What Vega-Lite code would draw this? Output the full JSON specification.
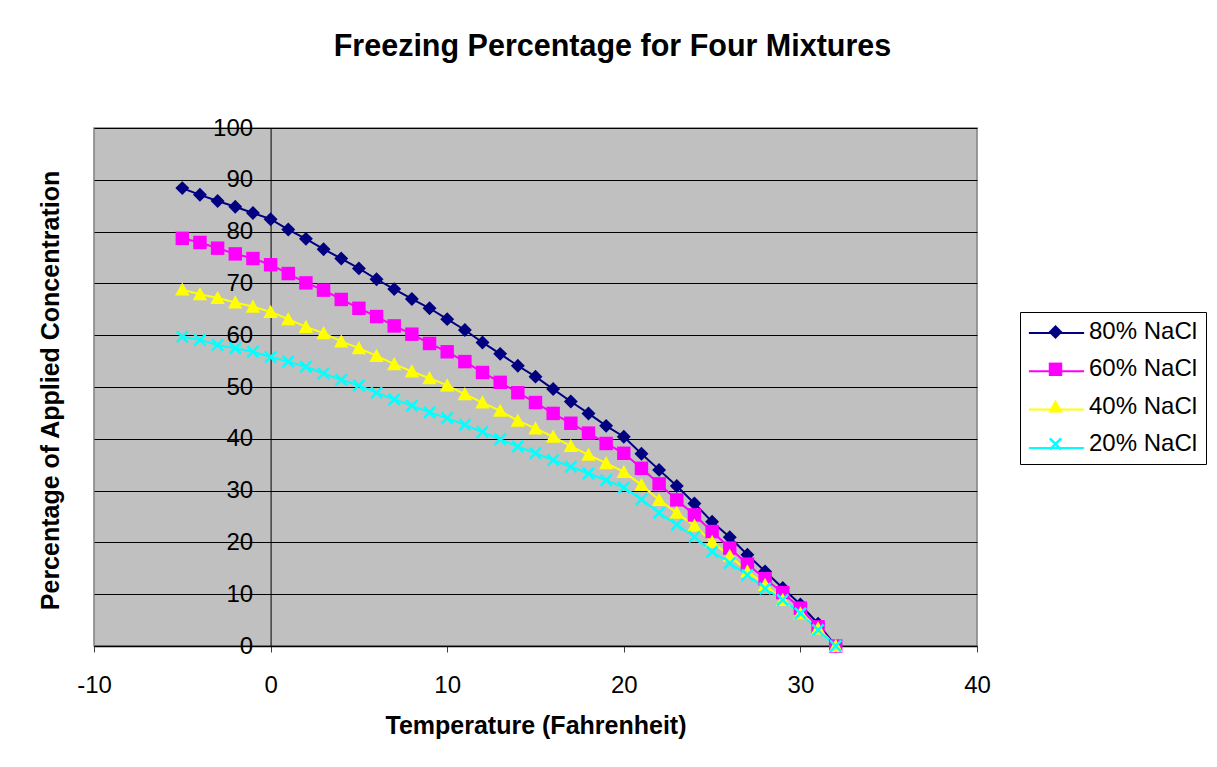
{
  "$schema": "https://vega.github.io/schema/vega-lite/v6.json",
  "width": 883,
  "height": 518,
  "autosize": {"type": "none"},
  "padding": {"left": 94, "top": 128, "right": 240, "bottom": 121},
  "background": "white",
  "title": {
    "text": "Freezing Percentage for Four Mixtures",
    "font": "Liberation Sans",
    "fontSize": 30.5,
    "fontWeight": "bold",
    "color": "black",
    "anchor": "middle",
    "frame": "group",
    "dx": 77,
    "offset": 54
  },
  "config": {
    "view": {"fill": "#C0C0C0", "stroke": "#808080", "strokeWidth": 1.5},
    "font": "Liberation Sans"
  },
  "data": {
    "values": [
      {"t": -5, "p": 88.4, "s": "80% NaCl"}, {"t": -4, "p": 87.1, "s": "80% NaCl"}, {"t": -3, "p": 85.9, "s": "80% NaCl"}, {"t": -2, "p": 84.8, "s": "80% NaCl"}, {"t": -1, "p": 83.6, "s": "80% NaCl"}, {"t": 0, "p": 82.4, "s": "80% NaCl"}, {"t": 1, "p": 80.4, "s": "80% NaCl"}, {"t": 2, "p": 78.6, "s": "80% NaCl"}, {"t": 3, "p": 76.6, "s": "80% NaCl"}, {"t": 4, "p": 74.8, "s": "80% NaCl"}, {"t": 5, "p": 72.9, "s": "80% NaCl"}, {"t": 6, "p": 70.8, "s": "80% NaCl"}, {"t": 7, "p": 68.9, "s": "80% NaCl"}, {"t": 8, "p": 67.0, "s": "80% NaCl"}, {"t": 9, "p": 65.2, "s": "80% NaCl"}, {"t": 10, "p": 63.1, "s": "80% NaCl"}, {"t": 11, "p": 61.0, "s": "80% NaCl"}, {"t": 12, "p": 58.6, "s": "80% NaCl"}, {"t": 13, "p": 56.4, "s": "80% NaCl"}, {"t": 14, "p": 54.1, "s": "80% NaCl"}, {"t": 15, "p": 52.0, "s": "80% NaCl"}, {"t": 16, "p": 49.6, "s": "80% NaCl"}, {"t": 17, "p": 47.2, "s": "80% NaCl"}, {"t": 18, "p": 44.9, "s": "80% NaCl"}, {"t": 19, "p": 42.5, "s": "80% NaCl"}, {"t": 20, "p": 40.4, "s": "80% NaCl"}, {"t": 21, "p": 37.1, "s": "80% NaCl"}, {"t": 22, "p": 34.0, "s": "80% NaCl"}, {"t": 23, "p": 30.9, "s": "80% NaCl"}, {"t": 24, "p": 27.5, "s": "80% NaCl"}, {"t": 25, "p": 24.0, "s": "80% NaCl"}, {"t": 26, "p": 21.0, "s": "80% NaCl"}, {"t": 27, "p": 17.6, "s": "80% NaCl"}, {"t": 28, "p": 14.4, "s": "80% NaCl"}, {"t": 29, "p": 11.2, "s": "80% NaCl"}, {"t": 30, "p": 8.0, "s": "80% NaCl"}, {"t": 31, "p": 4.3, "s": "80% NaCl"}, {"t": 32, "p": 0, "s": "80% NaCl"},
      {"t": -5, "p": 78.7, "s": "60% NaCl"}, {"t": -4, "p": 77.9, "s": "60% NaCl"}, {"t": -3, "p": 76.8, "s": "60% NaCl"}, {"t": -2, "p": 75.7, "s": "60% NaCl"}, {"t": -1, "p": 74.8, "s": "60% NaCl"}, {"t": 0, "p": 73.6, "s": "60% NaCl"}, {"t": 1, "p": 71.9, "s": "60% NaCl"}, {"t": 2, "p": 70.1, "s": "60% NaCl"}, {"t": 3, "p": 68.7, "s": "60% NaCl"}, {"t": 4, "p": 66.9, "s": "60% NaCl"}, {"t": 5, "p": 65.2, "s": "60% NaCl"}, {"t": 6, "p": 63.6, "s": "60% NaCl"}, {"t": 7, "p": 61.8, "s": "60% NaCl"}, {"t": 8, "p": 60.2, "s": "60% NaCl"}, {"t": 9, "p": 58.4, "s": "60% NaCl"}, {"t": 10, "p": 56.8, "s": "60% NaCl"}, {"t": 11, "p": 54.9, "s": "60% NaCl"}, {"t": 12, "p": 52.8, "s": "60% NaCl"}, {"t": 13, "p": 50.9, "s": "60% NaCl"}, {"t": 14, "p": 48.9, "s": "60% NaCl"}, {"t": 15, "p": 47.0, "s": "60% NaCl"}, {"t": 16, "p": 44.9, "s": "60% NaCl"}, {"t": 17, "p": 43.0, "s": "60% NaCl"}, {"t": 18, "p": 41.1, "s": "60% NaCl"}, {"t": 19, "p": 39.1, "s": "60% NaCl"}, {"t": 20, "p": 37.2, "s": "60% NaCl"}, {"t": 21, "p": 34.3, "s": "60% NaCl"}, {"t": 22, "p": 31.3, "s": "60% NaCl"}, {"t": 23, "p": 28.2, "s": "60% NaCl"}, {"t": 24, "p": 25.3, "s": "60% NaCl"}, {"t": 25, "p": 22.1, "s": "60% NaCl"}, {"t": 26, "p": 18.9, "s": "60% NaCl"}, {"t": 27, "p": 15.8, "s": "60% NaCl"}, {"t": 28, "p": 13.0, "s": "60% NaCl"}, {"t": 29, "p": 10.3, "s": "60% NaCl"}, {"t": 30, "p": 7.3, "s": "60% NaCl"}, {"t": 31, "p": 3.7, "s": "60% NaCl"}, {"t": 32, "p": 0, "s": "60% NaCl"},
      {"t": -5, "p": 68.8, "s": "40% NaCl"}, {"t": -4, "p": 67.9, "s": "40% NaCl"}, {"t": -3, "p": 67.2, "s": "40% NaCl"}, {"t": -2, "p": 66.3, "s": "40% NaCl"}, {"t": -1, "p": 65.5, "s": "40% NaCl"}, {"t": 0, "p": 64.5, "s": "40% NaCl"}, {"t": 1, "p": 63.1, "s": "40% NaCl"}, {"t": 2, "p": 61.6, "s": "40% NaCl"}, {"t": 3, "p": 60.4, "s": "40% NaCl"}, {"t": 4, "p": 58.8, "s": "40% NaCl"}, {"t": 5, "p": 57.5, "s": "40% NaCl"}, {"t": 6, "p": 56.0, "s": "40% NaCl"}, {"t": 7, "p": 54.4, "s": "40% NaCl"}, {"t": 8, "p": 53.0, "s": "40% NaCl"}, {"t": 9, "p": 51.7, "s": "40% NaCl"}, {"t": 10, "p": 50.3, "s": "40% NaCl"}, {"t": 11, "p": 48.6, "s": "40% NaCl"}, {"t": 12, "p": 47.0, "s": "40% NaCl"}, {"t": 13, "p": 45.4, "s": "40% NaCl"}, {"t": 14, "p": 43.5, "s": "40% NaCl"}, {"t": 15, "p": 42.0, "s": "40% NaCl"}, {"t": 16, "p": 40.4, "s": "40% NaCl"}, {"t": 17, "p": 38.6, "s": "40% NaCl"}, {"t": 18, "p": 36.9, "s": "40% NaCl"}, {"t": 19, "p": 35.3, "s": "40% NaCl"}, {"t": 20, "p": 33.6, "s": "40% NaCl"}, {"t": 21, "p": 31.1, "s": "40% NaCl"}, {"t": 22, "p": 28.2, "s": "40% NaCl"}, {"t": 23, "p": 25.7, "s": "40% NaCl"}, {"t": 24, "p": 23.2, "s": "40% NaCl"}, {"t": 25, "p": 20.1, "s": "40% NaCl"}, {"t": 26, "p": 17.4, "s": "40% NaCl"}, {"t": 27, "p": 14.4, "s": "40% NaCl"}, {"t": 28, "p": 11.8, "s": "40% NaCl"}, {"t": 29, "p": 8.9, "s": "40% NaCl"}, {"t": 30, "p": 6.3, "s": "40% NaCl"}, {"t": 31, "p": 3.4, "s": "40% NaCl"}, {"t": 32, "p": 0, "s": "40% NaCl"},
      {"t": -5, "p": 59.7, "s": "20% NaCl"}, {"t": -4, "p": 59.1, "s": "20% NaCl"}, {"t": -3, "p": 58.1, "s": "20% NaCl"}, {"t": -2, "p": 57.5, "s": "20% NaCl"}, {"t": -1, "p": 56.8, "s": "20% NaCl"}, {"t": 0, "p": 55.8, "s": "20% NaCl"}, {"t": 1, "p": 54.9, "s": "20% NaCl"}, {"t": 2, "p": 53.9, "s": "20% NaCl"}, {"t": 3, "p": 52.6, "s": "20% NaCl"}, {"t": 4, "p": 51.4, "s": "20% NaCl"}, {"t": 5, "p": 50.3, "s": "20% NaCl"}, {"t": 6, "p": 48.9, "s": "20% NaCl"}, {"t": 7, "p": 47.6, "s": "20% NaCl"}, {"t": 8, "p": 46.4, "s": "20% NaCl"}, {"t": 9, "p": 45.1, "s": "20% NaCl"}, {"t": 10, "p": 44.0, "s": "20% NaCl"}, {"t": 11, "p": 42.7, "s": "20% NaCl"}, {"t": 12, "p": 41.3, "s": "20% NaCl"}, {"t": 13, "p": 39.9, "s": "20% NaCl"}, {"t": 14, "p": 38.5, "s": "20% NaCl"}, {"t": 15, "p": 37.2, "s": "20% NaCl"}, {"t": 16, "p": 35.9, "s": "20% NaCl"}, {"t": 17, "p": 34.6, "s": "20% NaCl"}, {"t": 18, "p": 33.3, "s": "20% NaCl"}, {"t": 19, "p": 32.0, "s": "20% NaCl"}, {"t": 20, "p": 30.6, "s": "20% NaCl"}, {"t": 21, "p": 28.3, "s": "20% NaCl"}, {"t": 22, "p": 25.7, "s": "20% NaCl"}, {"t": 23, "p": 23.4, "s": "20% NaCl"}, {"t": 24, "p": 21.1, "s": "20% NaCl"}, {"t": 25, "p": 18.2, "s": "20% NaCl"}, {"t": 26, "p": 16.0, "s": "20% NaCl"}, {"t": 27, "p": 13.7, "s": "20% NaCl"}, {"t": 28, "p": 11.1, "s": "20% NaCl"}, {"t": 29, "p": 8.9, "s": "20% NaCl"}, {"t": 30, "p": 6.3, "s": "20% NaCl"}, {"t": 31, "p": 3.1, "s": "20% NaCl"}, {"t": 32, "p": 0, "s": "20% NaCl"}
    ]
  },
  "encoding": {
    "x": {
      "field": "t",
      "type": "quantitative",
      "scale": {"domain": [-10, 40], "nice": false, "zero": false},
      "axis": {
        "orient": "bottom",
        "values": [-10, 0, 10, 20, 30, 40],
        "labelExpr": "'' + datum.value",
        "grid": false,
        "domainColor": "black",
        "domainWidth": 1.5,
        "tickColor": "#404040",
        "tickSize": 6,
        "tickWidth": 1,
        "labelFont": "Liberation Sans",
        "labelFontSize": 24,
        "labelColor": "black",
        "labelPadding": 21,
        "labelFlush": false,
        "labelOverlap": false,
        "title": "Temperature (Fahrenheit)",
        "titleFont": "Liberation Sans",
        "titleFontSize": 25,
        "titleFontWeight": "bold",
        "titleColor": "black",
        "titleBaseline": "alphabetic",
        "titleY": 87
      }
    },
    "y": {
      "field": "p",
      "type": "quantitative",
      "scale": {"domain": [0, 100], "nice": false},
      "axis": {
        "orient": "left",
        "offset": -176.6,
        "values": [0, 10, 20, 30, 40, 50, 60, 70, 80, 90, 100],
        "grid": true,
        "gridColor": "black",
        "gridWidth": 1,
        "gridOpacity": 1,
        "domainColor": "black",
        "domainWidth": 1,
        "tickColor": "black",
        "tickSize": 7,
        "tickWidth": 1,
        "labelFont": "Liberation Sans",
        "labelFontSize": 24,
        "labelColor": "black",
        "labelPadding": 11,
        "labelFlush": false,
        "labelOverlap": false,
        "title": "Percentage of Applied Concentration",
        "titleFont": "Liberation Sans",
        "titleFontSize": 25,
        "titleFontWeight": "bold",
        "titleColor": "black",
        "titleAngle": -90,
        "titleAlign": "center",
        "titleBaseline": "alphabetic",
        "titleX": -212.6,
        "titleY": 262
      }
    }
  },
  "layer": [
    {
      "mark": {"type": "line", "strokeWidth": 2},
      "encoding": {
        "stroke": {
          "field": "s",
          "type": "nominal",
          "sort": ["80% NaCl", "60% NaCl", "40% NaCl", "20% NaCl"],
          "scale": {"range": ["#000080", "#FF00FF", "#FFFF00", "#00FFFF"]},
          "legend": {
            "orient": "none",
            "legendX": 926,
            "legendY": 184,
            "title": null,
            "padding": 8,
            "rowPadding": 13.3,
            "labelFont": "Liberation Sans",
            "labelFontSize": 24,
            "labelExpr": "''",
            "labelOffset": 21.5,
            "symbolType": "M-2.3,0L2.3,0",
            "symbolSize": 576,
            "symbolOffset": 15.5,
            "symbolStrokeWidth": 2,
            "zindex": 0
          }
        }
      }
    },
    {
      "mark": {"type": "point", "filled": true, "size": 576, "opacity": 1},
      "encoding": {
        "color": {
          "field": "s",
          "type": "nominal",
          "scale": {
            "domain": ["80% NaCl", "60% NaCl", "40% NaCl", "20% NaCl"],
            "range": ["#000080", "#FF00FF", "#FFFF00", "#00FFFF"]
          },
          "legend": {
            "orient": "none",
            "legendX": 926,
            "legendY": 184,
            "title": null,
            "padding": 8,
            "rowPadding": 13.3,
            "labelFont": "Liberation Sans",
            "labelFontSize": 24,
            "labelColor": "black",
            "labelOffset": 21.5,
            "symbolSize": 576,
            "symbolOffset": 15.5,
            "symbolStrokeWidth": 0,
            "symbolOpacity": 1,
            "strokeColor": "black",
            "zindex": 1
          }
        },
        "shape": {
          "field": "s",
          "type": "nominal",
          "scale": {
            "domain": ["80% NaCl", "60% NaCl", "40% NaCl", "20% NaCl"],
            "range": [
              "M0,-0.58L0.58,0L0,0.58L-0.58,0Z",
              "M-0.56,-0.56L0.56,-0.56L0.56,0.56L-0.56,0.56Z",
              "M0,-0.6L0.6,0.5L-0.6,0.5Z",
              "M0,-0.147L0.393,-0.54L0.54,-0.393L0.147,0L0.54,0.393L0.393,0.54L0,0.147L-0.393,0.54L-0.54,0.393L-0.147,0L-0.54,-0.393L-0.393,-0.54Z"
            ]
          },
          "legend": {
            "orient": "none",
            "legendX": 926,
            "legendY": 184,
            "title": null,
            "padding": 8,
            "rowPadding": 13.3,
            "labelFont": "Liberation Sans",
            "labelFontSize": 24,
            "labelColor": "black",
            "labelOffset": 21.5,
            "symbolSize": 576,
            "symbolOffset": 15.5,
            "symbolStrokeWidth": 0,
            "symbolOpacity": 1,
            "strokeColor": "black",
            "zindex": 1
          }
        }
      }
    }
  ]
}
